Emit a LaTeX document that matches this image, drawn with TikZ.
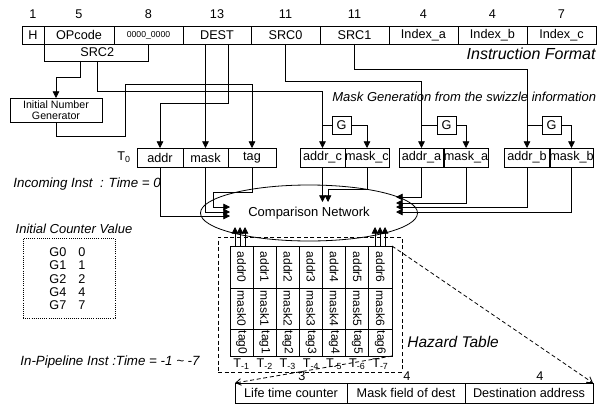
\documentclass[tikz,border=0pt]{standalone}
\usepackage{fontspec}
\usepackage{graphicx}
\setmainfont{Liberation Sans}
\usetikzlibrary{arrows.meta,shapes.geometric}
\newcommand\pxbox[7][]{\node[fld,#1,minimum width={(#5-#3)*0.75pt},minimum height={(#6-#4)*0.75pt}] (#2) at ({(#3+#5)/2},{(#4+#6)/2}) {#7};}
\begin{document}
\begin{tikzpicture}[x=0.75pt,y=-0.75pt,line width=0.6pt,
  fld/.style={draw,inner sep=0pt,outer sep=0pt,font=\fontsize{9.5}{11}\selectfont},
  cell/.style={fld,font=\fontsize{9}{10}\selectfont},
  num/.style={font=\fontsize{9.5}{11}\selectfont,inner sep=0pt},
  ital/.style={font=\fontsize{9.75}{11}\selectfont\itshape,inner sep=0pt},
  big/.style={font=\fontsize{12}{14}\selectfont\itshape,inner sep=0pt},
  arr/.style={-{Triangle[length=5pt,width=5pt]}},
  dsh/.style={dash pattern=on 3pt off 2pt,-{Straight Barb[length=4pt,width=5pt]}}]
\useasboundingbox (0,0) rectangle (602,410);
% ---------- instruction format
\pxbox{h}{22}{26}{44}{44}{H}
\pxbox{op}{44}{26}{114}{44}{OPcode}
\pxbox[font=\fontsize{6.5}{8}\selectfont]{zz}{114}{26}{183}{44}{0000\_0000}
\pxbox{dest}{183}{26}{251}{44}{DEST}
\pxbox{src0}{251}{26}{320}{44}{SRC0}
\pxbox{src1}{320}{26}{389}{44}{SRC1}
\pxbox{ia}{389}{26}{458}{44}{Index\_a}
\pxbox{ib}{458}{26}{527}{44}{Index\_b}
\pxbox{ic}{527}{26}{596}{44}{Index\_c}
\coordinate (numrow) at (0,14);
\foreach \n/\t in {h/1,op/5,zz/8,dest/13,src0/11,src1/11,ia/4,ib/4,ic/7}
  \node[num] at (\n.center |- numrow) {\t};
\pxbox{src2}{44}{44}{148}{61}{}
\node[num,anchor=west] (src2lab) at (80,52.5) {SRC2};
\node[big,anchor=east] (iflab) at (596,54) {Instruction Format};
% ---------- generator
\pxbox[align=center,font=\fontsize{8}{8.5}\selectfont]{ingen}{10}{98}{102}{122}{Initial Number\\Generator}
% ---------- incoming instruction row
\node[num,anchor=east] (tz) at (131,157) {T\textsubscript{0}};
\pxbox{addr}{137}{148}{183}{167}{addr}
\pxbox{mask}{183}{148}{228}{167}{mask}
\pxbox{tag}{228}{148}{276}{167}{tag}
\pxbox{addrc}{300}{148}{345}{167}{addr\_c}
\pxbox{maskc}{345}{148}{389}{167}{mask\_c}
\pxbox{addra}{399}{148}{444}{167}{addr\_a}
\pxbox{maska}{444}{148}{488}{167}{mask\_a}
\pxbox{addrb}{504}{148}{550}{167}{addr\_b}
\pxbox{maskb}{550}{148}{593}{167}{mask\_b}
\node[ital,anchor=west] (mg) at (332,97) {Mask Generation from the swizzle information};
\pxbox{g1}{332}{116}{351}{134}{G}
\pxbox{g2}{437}{116}{456}{134}{G}
\pxbox{g3}{542}{116}{561}{134}{G}
\node[ital,anchor=west,font=\fontsize{10}{12}\selectfont\itshape] (inc) at (13,184) {Incoming Inst\ \ : Time = 0};
% ---------- wires from instruction
\draw[arr] (src2.south -| 80,0) |- (ingen.north |- 0,77) -- (ingen.north);
\draw[arr] (src2.south -| 97,0) |- (addrc.north |- 0,91) -- (addrc.north);
\draw[arr] (src0.south) |- (addra.north |- 0,81) -- (addra.north);
\draw[arr] (src1.south) |- (addrb.north |- 0,69) -- (addrb.north);
\draw[arr] (dest.south -| mask.north) -- (mask.north);
\draw[arr] (dest.south -| 228,0) |- (addr.north |- 0,103) -- (addr.north);
\draw[arr] (ingen.south) |- (125,136) |- (tag.north |- 0,84) -- (tag.north);
\draw (addrc.north |- g1.west) -- (g1.west);
\draw[arr] (g1.east) -| (maskc.north);
\draw (addra.north |- g2.west) -- (g2.west);
\draw[arr] (g2.east) -| (maska.north);
\draw (addrb.north |- g3.west) -- (g3.west);
\draw[arr] (g3.east) -| (maskb.north);
% ---------- comparison network
\node[draw,ellipse,minimum width={217*0.75pt},minimum height={56*0.75pt},inner sep=0pt,font=\fontsize{9.75}{11}\selectfont] (cn) at (309,213) {Comparison Network};
\draw[arr] (addr.south) |- (230,216);
\draw[arr] (mask.south) |- (230,212);
\draw[arr] (tag.south) |- (213,192) |- (230,207);
\draw[arr] (addrc.south) -- (addrc.south |- 0,202);
\draw[arr] (maskc.south) |- (328,189) -- (328,202);
\draw[arr] (addra.south) |- (396,197);
\draw[arr] (maska.south) |- (396,203);
\draw[arr] (addrb.south) |- (396,207);
\draw[arr] (maskb.south) |- (396,212);
% ---------- hazard table
\pxbox[dash pattern=on 3pt off 2pt]{htab}{218}{237}{402}{372}{}
\foreach \i in {0,...,6}{
  \pgfmathsetmacro\xa{230+23.143*\i}
  \pgfmathsetmacro\xb{\xa+23.143}
  \pgfmathtruncatemacro\k{\i+1}
  \pxbox[cell]{a\i}{\xa}{246}{\xb}{288}{\rotatebox{-90}{addr\i}}
  \pxbox[cell]{m\i}{\xa}{288}{\xb}{329}{\rotatebox{-90}{mask\i}}
  \pxbox[cell]{t\i}{\xa}{329}{\xb}{356}{\rotatebox{-90}{tag\i}}
  \node[num] at (t\i.south |- 0,364) {T\textsubscript{-\k}};
}
\foreach \x in {235,240,245} \draw[arr] (a0.north -| \x,0) -- (\x,227);
\foreach \x in {375,380,385} \draw[arr] (a6.north -| \x,0) -- (\x,227);
\node[big,anchor=west,font=\fontsize{11.6}{14}\selectfont\itshape] (htl) at (407,342) {Hazard Table};
\node[ital,anchor=west,font=\fontsize{10}{12}\selectfont\itshape] (ipl) at (20,362) {In-Pipeline Inst :Time = -1 \textasciitilde{} -7};
% ---------- counter
\node[ital] (icv) at (74,229) {Initial Counter Value};
\pxbox[densely dotted]{cnt}{23}{238}{115}{318}{}
\foreach \g/\v/\y in {G0/0/252,G1/1/265,G2/2/279,G4/4/292,G7/7/305}{
  \node[num,anchor=west] at (49,\y) {\g};
  \node[num] at (82,\y) {\v};
}
% ---------- entry format
\pxbox{lt}{235}{383}{347}{403}{Life time counter}
\pxbox{mf}{347}{383}{465}{403}{Mask field of dest}
\pxbox{da}{465}{383}{593}{403}{Destination address}
\node[num] at (302,376) {3};
\node[num] at (407,376) {4};
\node[num] at (540,376) {4};
\draw[dsh] (t6.south east) -- (lt.north west);
\draw[dsh] (a6.north east) -- (da.north east);
\end{tikzpicture}
\end{document}
